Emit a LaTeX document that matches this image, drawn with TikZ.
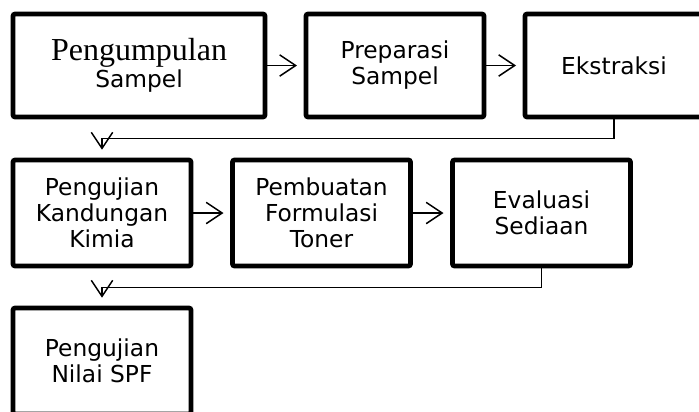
\documentclass[tikz,border=0pt]{standalone}
\usepackage{fontspec}
\setmainfont{Liberation Serif}
\newfontfamily\verdfont{DejaVu Sans}
\usetikzlibrary{arrows.meta,positioning}

\begin{document}
\begin{tikzpicture}[x=0.75pt, y=-0.75pt, >={Straight Barb[length=12pt, width=16pt]},
    stepbox/.style={draw, line width=3.5pt, rounded corners=1.5pt, inner sep=0pt,
      minimum width=133.5pt, minimum height=79.5pt, align=center,
      font=\verdfont\fontsize{17.5}{19.5}\selectfont},
    toprow/.style={minimum height=77.25pt},
    link/.style={->, line width=1.1pt, shorten >=5pt}]
  \useasboundingbox (0,0) rectangle (699,411);

  % first row
  \node[stepbox, toprow, minimum width=189pt] (kumpul) at (139,65.5)
    {{\rmfamily\fontsize{24}{20}\selectfont Pengumpulan}\\[1pt]Sampel};
  \node[stepbox, toprow] (prep) at (395,65.5) {Preparasi\\Sampel};
  \node[stepbox, toprow] (ekstr) at (614,65.5) {Ekstraksi};

  % second row
  \node[stepbox] (kimia) at (102,213) {Pengujian\\Kandungan\\Kimia};
  \node[stepbox] (toner) at (321.5,213) {Pembuatan\\Formulasi\\Toner};
  \node[stepbox] (eval) at (541.5,213) {Evaluasi\\Sediaan};

  % third row
  \node[stepbox] (spf) at (102,361) {Pengujian\\Nilai SPF};

  \draw[link] (kumpul) -- (prep);
  \draw[link] (prep) -- (ekstr);
  \draw[link, shorten >=6pt] (ekstr.south) -- ++(0,19) -| (kimia.north);
  \draw[link] (kimia) -- (toner);
  \draw[link] (toner) -- (eval);
  \draw[link, shorten >=6pt] (eval.south) -- ++(0,19) -| (spf.north);
\end{tikzpicture}
\end{document}
